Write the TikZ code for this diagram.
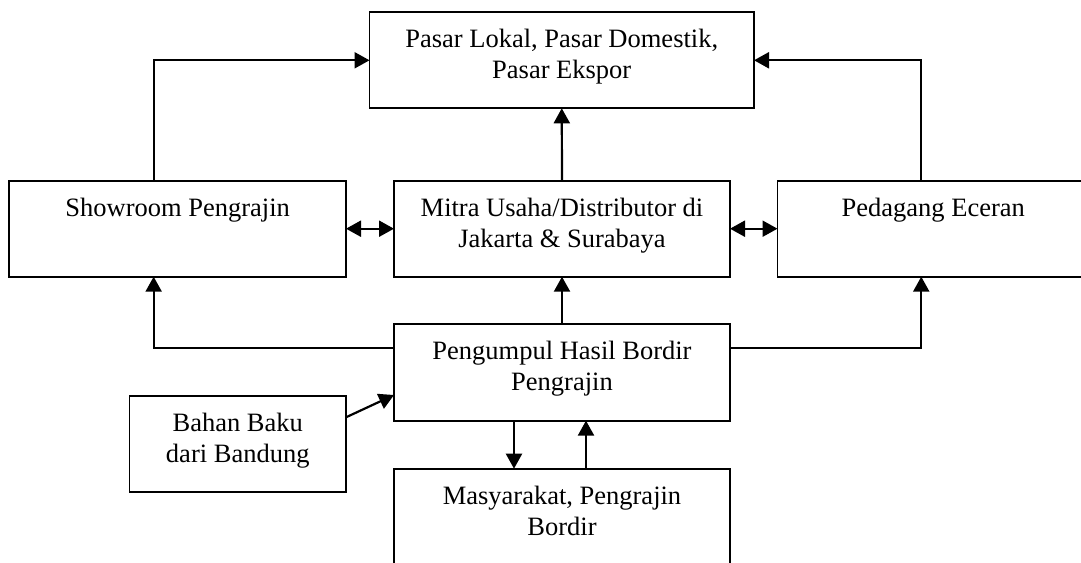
\documentclass[tikz,border=0pt]{standalone}
\usepackage{fontspec}
\setmainfont{Liberation Serif}
\usetikzlibrary{arrows.meta}
\newcommand{\mystrut}{\rule{0pt}{24pt}}
\begin{document}
\begin{tikzpicture}[x=1pt,y=1pt,
 box/.style={draw, line width=1.8pt, inner sep=0pt, outer sep=0pt},
 txt/.style={anchor=north, inner sep=0pt, align=center, font=\fontsize{26.5}{31}\selectfont},
 arr/.style={line width=2.2pt, -{Triangle[length=15pt,width=16pt]}},
 darr/.style={line width=2.2pt, {Triangle[length=15pt,width=16pt]}-{Triangle[length=15pt,width=16pt]}}]
\clip (0,0) rectangle (1081,562);
% boxes
\node[box, minimum width=384.5pt, minimum height=96pt] (top) at (561.75,501.7) {};
\node[box, minimum width=336.7pt, minimum height=96pt] (show) at (177.65,333.3) {};
\node[box, minimum width=336pt, minimum height=96pt] (mitra) at (562,333.3) {};
\node[box, minimum width=311.5pt, minimum height=96pt] (pedag) at (933.25,333.3) {};
\node[box, minimum width=336pt, minimum height=96.7pt] (peng) at (562,189.7) {};
\node[box, minimum width=216.5pt, minimum height=96pt] (bahan) at (237.75,117.7) {};
\node[box, minimum width=336pt, minimum height=96pt] (masy) at (562,45.3) {};
% texts
\node[txt] (topt) at ([yshift=-11.3pt]top.north) {\mystrut Pasar Lokal, Pasar Domestik,\\Pasar Ekspor};
\node[txt] (showt) at ([yshift=-11.3pt]show.north) {\mystrut Showroom Pengrajin};
\node[txt] (mitrat) at ([yshift=-11.3pt]mitra.north) {\mystrut Mitra Usaha/Distributor di\\Jakarta \& Surabaya};
\node[txt] (pedagt) at ([yshift=-11.3pt]pedag.north) {\mystrut Pedagang Eceran};
\node[txt] (pengt) at ([yshift=-11.3pt]peng.north) {\mystrut Pengumpul Hasil Bordir\\Pengrajin};
\node[txt] (bahant) at ([yshift=-11.3pt]bahan.north) {\mystrut Bahan Baku\\dari Bandung};
\node[txt] (masyt) at ([yshift=-11.3pt]masy.north) {\mystrut Masyarakat, Pengrajin\\Bordir};
% connectors
\draw[arr] ([xshift=-24pt]show.north) |- (top.west);
\draw[arr] ([xshift=-12pt]pedag.north) |- (top.east);
\draw[arr] (mitra.north) -- (top.south);
\draw[darr] (show.east) -- (mitra.west);
\draw[darr] (mitra.east) -- (pedag.west);
\draw[arr] (peng.north) -- (mitra.south);
\draw[arr] ([yshift=24pt]peng.west) -| ([xshift=-24pt]show.south);
\draw[arr] ([yshift=24pt]peng.east) -| ([xshift=-12pt]pedag.south);
\draw[arr] ([yshift=27pt]bahan.east) -- ([yshift=-22.7pt]peng.west);
\draw[arr] ([xshift=-48pt]peng.south) -- ([xshift=-48pt]masy.north);
\draw[arr] ([xshift=24pt]masy.north) -- ([xshift=24pt]peng.south);
\end{tikzpicture}
\end{document}
